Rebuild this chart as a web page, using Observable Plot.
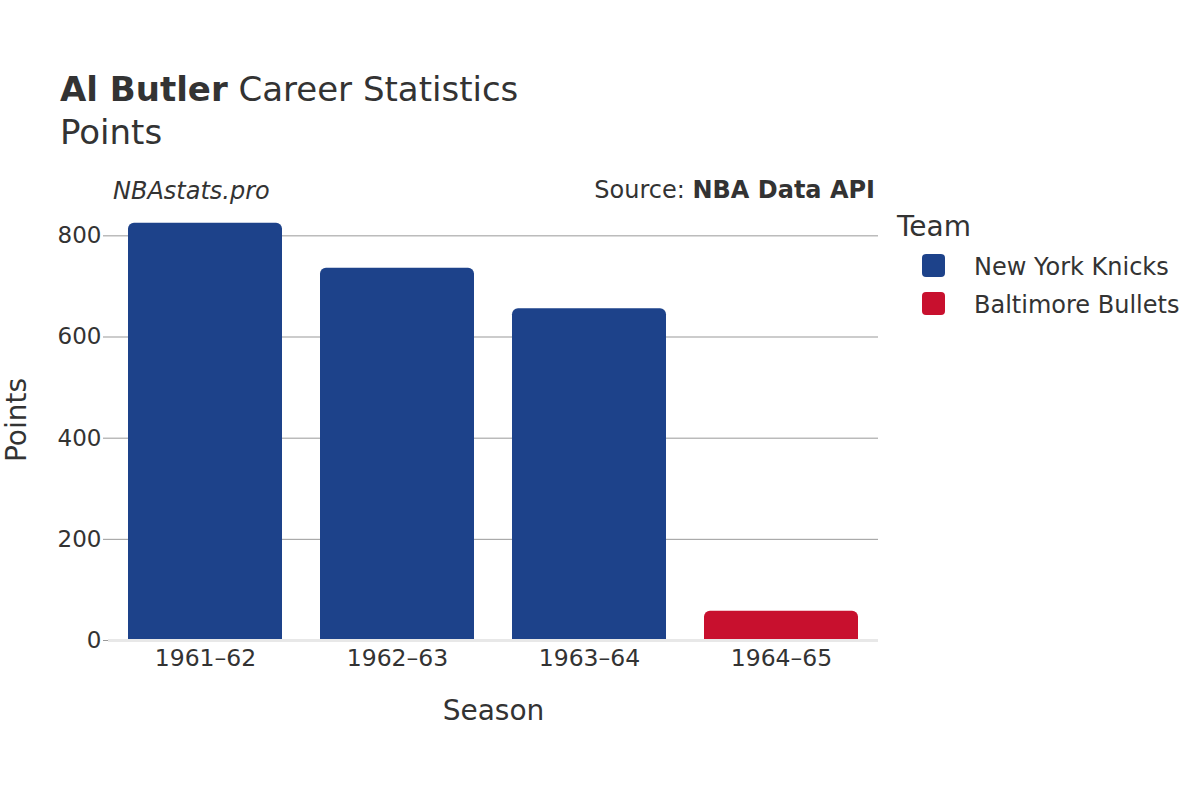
<!DOCTYPE html>
<html>
<head>
<meta charset="utf-8">
<script src="https://cdn.jsdelivr.net/npm/d3@7"></script>
<script src="https://cdn.jsdelivr.net/npm/@observablehq/plot@0.6"></script>
<style>
  html, body { margin: 0; padding: 0; background: #fff; }
  body { font-family: "DejaVu Sans", sans-serif; color: #333; }
  #wrap { position: relative; width: 1200px; height: 800px; overflow: hidden; }
  #wrap svg { position: absolute; left: 0; top: 0; }
  .t { position: absolute; white-space: nowrap; line-height: 1; }
  .sw { position: absolute; width: 23px; height: 23px; border-radius: 4px; }
</style>
</head>
<body>
<div id="wrap">
  <div class="t" style="left:60px; top:71.5px; font-size:34px;"><b>Al Butler</b> Career Statistics</div>
  <div class="t" style="left:60px; top:115px; font-size:34px;">Points</div>
  <div class="t" style="left:113px; top:178.5px; font-size:24px; font-style:italic;">NBAstats.pro</div>
  <div class="t" style="right:325px; top:178px; font-size:24px; text-align:right;">Source: <b>NBA Data API</b></div>
  <div id="legend"></div>
</div>
<script>
const seasons = ["1961–62", "1962–63", "1963–64", "1964–65"];
const points = [825, 736, 656, 58];
const teams = ["New York Knicks", "New York Knicks", "New York Knicks", "Baltimore Bullets"];
const teamNames = ["New York Knicks", "Baltimore Bullets"];
const teamColors = ["#1D428A", "#C8102E"];
const yTicks = [0, 200, 400, 600, 800];

const data = seasons.map((s, i) => ({season: s, points: points[i], team: teams[i]}));

const chart = Plot.plot({
  width: 1200,
  height: 800,
  marginLeft: 108,
  marginRight: 322,
  marginTop: 205,
  marginBottom: 160,
  style: {fontFamily: "DejaVu Sans, sans-serif", fontSize: "23px", color: "#333", background: "transparent"},
  x: {domain: seasons, paddingInner: 0.2, paddingOuter: 0.1, label: null, axis: null},
  y: {domain: [0, 860], label: null, axis: null},
  color: {domain: teamNames, range: teamColors},
  marks: [
    Plot.ruleY(yTicks.filter(t => t > 0), {stroke: "#999", strokeWidth: 1}),
    Plot.axisY({ticks: yTicks, tickSize: 5, tickPadding: 2, stroke: "#999", fill: "#333", fontSize: 23, label: null}),
    Plot.barY(data, {x: "season", y: "points", fill: "team", ry1: 6}),
    Plot.ruleY([0], {stroke: "#e8e8e8", strokeWidth: 3}),
    Plot.axisX({tickSize: 0, tickPadding: 9, fill: "#333", fontSize: 23.5, label: null}),
    Plot.text(["Season"], {frameAnchor: "bottom", dy: 79, fontSize: 28, fill: "#333"}),
    Plot.text(["Points"], {frameAnchor: "left", textAnchor: "middle", dx: -91, dy: -3, rotate: -90, fontSize: 28, fill: "#333"})
  ]
});
document.getElementById("wrap").appendChild(chart);

// legend
const legend = document.getElementById("legend");
const title = document.createElement("div");
title.className = "t";
title.style.cssText = "left:897px; top:213px; font-size:28px;";
title.textContent = "Team";
legend.appendChild(title);
teamNames.forEach((name, i) => {
  const sw = document.createElement("div");
  sw.className = "sw";
  sw.style.left = "922px";
  sw.style.top = (254 + i * 38) + "px";
  sw.style.background = teamColors[i];
  legend.appendChild(sw);
  const lab = document.createElement("div");
  lab.className = "t";
  lab.style.cssText = `left:974px; top:${255 + i * 38}px; font-size:24px;`;
  lab.textContent = name;
  legend.appendChild(lab);
});
</script>
</body>
</html>
